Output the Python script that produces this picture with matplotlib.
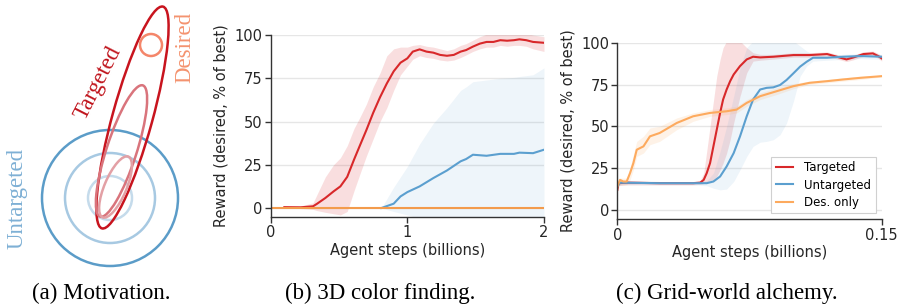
import matplotlib
matplotlib.use('Agg')
import matplotlib.pyplot as plt
from matplotlib.patches import Ellipse, Circle

RED = '#d8282a'
BLUE = '#5b9fcf'
ORANGE_B = '#f39b4c'
ORANGE_C = '#fdaa5e'

# (b) 3D color finding
b_red_x = [0.10, 0.22, 0.31, 0.34, 0.40, 0.46, 0.51, 0.56, 0.61, 0.65, 0.70, 0.75, 0.80, 0.85, 0.90, 0.95,
           1.00, 1.04, 1.09, 1.14, 1.19, 1.24, 1.29, 1.34, 1.39, 1.43, 1.48, 1.53, 1.58, 1.63, 1.68, 1.73,
           1.78, 1.82, 1.87, 1.92, 2.00]
b_red_y = [0.5, 0.4, 1.0, 2.5, 5.8, 9.6, 12.5, 18, 28, 35.6, 45, 55, 64, 72, 79, 84,
           86.5, 90.4, 91.7, 90.4, 89.8, 88.5, 88, 88.5, 90.4, 91.3, 93.3, 95, 96, 96, 97, 96.7,
           97, 97.5, 97, 96, 95.5]
b_red_lo = [0, -0.3, -0.8, -1.5, -2.5, -3.3, -4, -2, 10, 19, 30, 40, 50, 58, 68, 77,
            82, 86, 88, 87, 86.5, 85.5, 85, 85.5, 87, 88.5, 90.5, 92, 93, 93, 94, 93.5,
            94, 94, 93.5, 92, 90.5]
b_red_hi = [1, 1.2, 3, 8, 18, 25, 29, 36, 46, 52, 60, 70, 78, 88, 92, 93,
            93, 94, 94.5, 93.5, 93, 92, 91, 92, 94, 95, 97, 99, 100.5, 100.5, 101, 101,
            101, 101, 101, 100, 99]

b_blue_x = [0.81, 0.90, 0.95, 1.00, 1.09, 1.19, 1.29, 1.39, 1.43, 1.48, 1.58, 1.68, 1.78, 1.82, 1.92, 2.00]
b_blue_y = [0, 2.5, 6.7, 9.2, 12.5, 17.3, 21.7, 27, 28.3, 30.8, 30.2, 31.3, 31.3, 32, 31.7, 33.7]
b_blue_lo = [0, -2, -3, -4, -6, -6, -6, -6, -6, -6, -6, -6, -6, -6, -6, -6]
b_blue_hi = [0, 12, 18, 24, 37, 49, 58, 68, 70, 73, 74, 75, 75.5, 76, 77, 81]

b_orange_x = [0, 0.5, 1.0, 1.5, 2.0]
b_orange_y = [0, 0, 0, 0, 0]

# (c) Grid-world alchemy
c_red_x = [0, 0.0006, 0.005, 0.024, 0.043, 0.047, 0.049, 0.0507, 0.0526, 0.0545, 0.0564, 0.0583, 0.060,
           0.062, 0.064, 0.066, 0.0696, 0.0734, 0.077, 0.081, 0.0885, 0.0999, 0.109, 0.119, 0.1245,
           0.130, 0.134, 0.1396, 0.145, 0.148, 0.15]
c_red_y = [12, 16, 16.3, 16, 16, 16.3, 18, 22, 28, 38, 48, 58, 66,
           72, 77, 81, 86, 90, 91.6, 91.2, 91.6, 92.6, 92.6, 93.2, 91.6,
           90, 91.2, 93.2, 93.6, 92, 90.6]
c_red_lo = [11, 14.5, 15, 15, 15, 15.3, 15.8, 16.5, 17.5, 18, 20, 24, 28,
            34, 42, 52, 68, 82, 89, 89.5, 90.2, 91.3, 91.3, 92, 90.3,
            88.7, 89.8, 91.8, 92.3, 90.6, 89]
c_red_hi = [13, 17.5, 17.5, 17, 17, 17.5, 22, 35, 50, 65, 80, 90, 97,
            101, 102, 102, 101, 97, 94, 93, 93, 94, 94, 94.5, 93,
            91.5, 92.6, 94.6, 95, 93.5, 92.3]

c_blue_x = [0, 0.0015, 0.024, 0.043, 0.0507, 0.0545, 0.0583, 0.062, 0.066, 0.0696, 0.0734, 0.077, 0.081,
            0.0847, 0.0885, 0.0923, 0.096, 0.0999, 0.1037, 0.1074, 0.111, 0.119, 0.128, 0.138, 0.15]
c_blue_y = [14, 16.3, 16, 16, 16, 17, 20, 26, 34, 44, 56, 66, 72,
            73, 73.3, 74.7, 77.7, 81.7, 85.7, 88.6, 91, 91, 91.6, 92, 91.6]
c_blue_lo = [13, 15, 15, 15, 14.5, 13, 12, 12.5, 17, 24, 32, 38, 40.5,
             41, 42, 45, 52, 65, 80, 86, 89, 89.5, 90, 90.5, 90]
c_blue_hi = [15, 17.5, 17, 17, 17.5, 22, 35, 50, 68, 85, 97, 101, 101,
             101, 101, 101, 101, 101, 98, 95, 93, 92.5, 93, 93.5, 93]

c_orange_x = [0, 0.0015, 0.0034, 0.0053, 0.0072, 0.0091, 0.011, 0.0148, 0.0185, 0.024, 0.0337, 0.043,
              0.0526, 0.062, 0.0677, 0.0734, 0.081, 0.0904, 0.0999, 0.109, 0.119, 0.128, 0.138, 0.15]
c_orange_y = [14, 18, 17, 17, 22, 28, 36, 38, 44, 46, 52, 56, 58, 59, 60, 64, 68, 71, 74, 76, 77, 78, 79, 80]
c_orange_lo = [13, 15, 15, 15, 18, 24, 32, 34, 39, 41, 48, 53, 56, 57, 58, 62, 66, 69, 72.5, 75, 76, 77, 78, 79.5]
c_orange_hi = [16, 19, 19, 19, 25, 33, 41, 44, 49, 50, 55, 58, 60, 61, 62, 66, 70, 73, 75.5, 77, 78, 79, 80, 80.5]

legend_labels = ['Targeted', 'Untargeted', 'Des. only']
y_ticks = [0, 25, 50, 75, 100]

# (a) sketch, in figure pixels (x, y from bottom)
circle_center = (110, 108)
circle_radii = [68, 45, 22]
circle_colors = ['#5b9cc8', '#a7c9e2', '#c5dbeb']
ellipse_centers = [(132.5, 188.5), (121.5, 155), (115.5, 119)]
ellipse_sizes = [(230, 40), (138, 30), (66, 22)]
ellipse_angles = [74.6, 72, 67]
ellipse_colors = ['#c8141e', '#d9747c', '#e3a0a5']

fig = plt.figure(figsize=(8.99, 3.06), dpi=100)

# panel (a)
axa = fig.add_axes([0, 0, 1, 1], zorder=0)
axa.set_xlim(0, 899)
axa.set_ylim(0, 306)
axa.axis('off')
for r, c in zip(circle_radii, circle_colors):
    axa.add_patch(Circle(circle_center, r, fill=False, ec=c, lw=1.8))
for cen, (w, h), ang, c in zip(ellipse_centers, ellipse_sizes, ellipse_angles, ellipse_colors):
    axa.add_patch(Ellipse(cen, w, h, angle=ang, fill=False, ec=c, lw=1.8))
axa.add_patch(Circle((151, 261), 11, fill=False, ec='#f4866a', lw=1.8))
serif = 'Liberation Serif'
axa.text(17, 108, 'Untargeted', rotation=90, color='#7eb0d5', fontsize=16.5, family=serif,
         ha='center', va='center')
axa.text(98, 223.5, 'Targeted', rotation=63, color='#c0141c', fontsize=16.5, family=serif,
         ha='center', va='center')
axa.text(185, 258.5, 'Desired', rotation=90, color='#f4936f', fontsize=16.5, family=serif,
         ha='center', va='center')


def style(ax):
    for s in ['top', 'right']:
        ax.spines[s].set_visible(False)
    for s in ['left', 'bottom']:
        ax.spines[s].set_color('#333333')
        ax.spines[s].set_linewidth(1.0)
    ax.tick_params(direction='out', length=4, width=1, color='#333333', labelsize=10.5,
                   labelcolor='#262626', pad=2)
    ax.set_yticks(y_ticks)
    ax.yaxis.grid(True, color='#e6e6e6', lw=1)
    ax.set_axisbelow(True)
    ax.set_ylabel('Reward (desired, % of best)', fontsize=10.5, color='#262626', labelpad=4)
    ax.set_xlabel('Agent steps (billions)', fontsize=10.5, color='#262626', labelpad=2)


def band(ax, x, y, lo, hi, color, label, alpha=0.15):
    ax.fill_between(x, lo, hi, color=color, alpha=alpha, lw=0)
    ax.plot(x, y, color=color, lw=1.5, label=label)


# panel (b)
axb = fig.add_axes([0.3011, 0.2908, 0.304, 0.5948], zorder=1)
band(axb, b_red_x, b_red_y, b_red_lo, b_red_hi, RED, legend_labels[0])
band(axb, b_blue_x, b_blue_y, b_blue_lo, b_blue_hi, BLUE, legend_labels[1], alpha=0.1)
axb.plot(b_orange_x, b_orange_y, color=ORANGE_B, lw=1.5, label=legend_labels[2])
axb.set_xlim(0, 2)
axb.set_ylim(-5.2, 100)
axb.set_xticks([0, 1, 2])
axb.set_xticklabels(['0', '1', '2'])
style(axb)

# panel (c)
axc = fig.add_axes([0.6867, 0.2833, 0.2941, 0.5772], zorder=1)
band(axc, c_red_x, c_red_y, c_red_lo, c_red_hi, RED, legend_labels[0])
band(axc, c_blue_x, c_blue_y, c_blue_lo, c_blue_hi, BLUE, legend_labels[1], alpha=0.1)
band(axc, c_orange_x, c_orange_y, c_orange_lo, c_orange_hi, ORANGE_C, legend_labels[2])
axc.set_xlim(0, 0.15)
axc.set_ylim(-5.6, 100)
axc.set_xticks([0, 0.15])
axc.set_xticklabels(['0', '0.15'])
style(axc)
leg = axc.legend(loc='lower right', fontsize=8.5, handlelength=1.5, handletextpad=0.9,
                 fancybox=False, framealpha=1, edgecolor='#d0d0d0', labelspacing=0.35)
leg.get_frame().set_linewidth(0.8)

# captions
for x, t in [(101, '(a) Motivation.'), (380, '(b) 3D color finding.'), (727, '(c) Grid-world alchemy.')]:
    fig.text(x / 899, 1 - 293 / 306, t, ha='center', va='center', fontsize=16.5, family=serif)

fig.savefig('out.png', dpi=100)
